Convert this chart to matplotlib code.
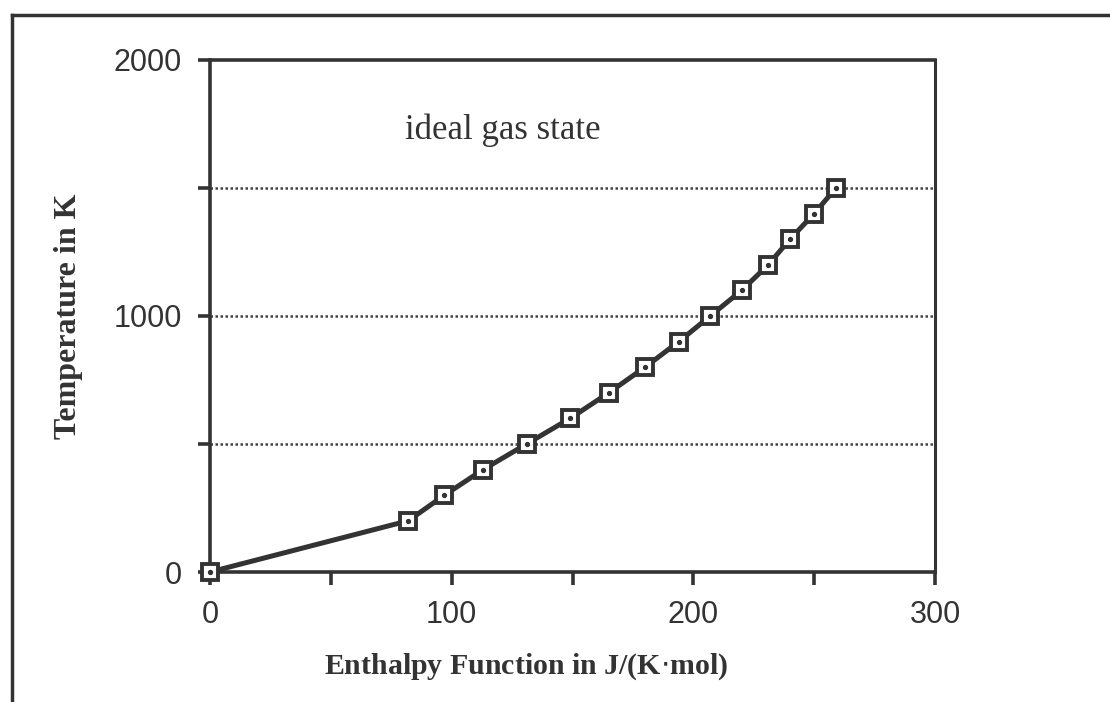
"""
Temperature vs enthalpy function, ideal gas state
"""

import matplotlib
matplotlib.use('Agg')
import matplotlib.pyplot as plt
from matplotlib.lines import Line2D

# data
enthalpy_fn = [0, 82, 97, 113, 131, 149, 165, 180, 194, 207, 220, 231, 240, 250, 259]
temperature = [0, 200, 300, 400, 500, 600, 700, 800, 900, 1000, 1100, 1200, 1300, 1400, 1500]
grid_levels = [500, 1000, 1500]

ink = '#333333'

fig = plt.figure(figsize=(11.1, 7.02), dpi=100)
ax = fig.add_axes([210 / 1110, 130 / 702, 725 / 1110, 512 / 702])

# outer border (left and top only, as in the scan)
fig.add_artist(Line2D([12 / 1110, 12 / 1110], [0, 1 - 15 / 702], color=ink, lw=2.5,
                      transform=fig.transFigure))
fig.add_artist(Line2D([12 / 1110, 1], [1 - 15 / 702, 1 - 15 / 702], color=ink, lw=2.5,
                      transform=fig.transFigure))

# gridlines
for g in grid_levels:
    ax.axhline(g, color='#444444', lw=1.8, ls=(0, (1, 1)), zorder=1)

# the curve
ax.plot(enthalpy_fn, temperature, color=ink, lw=3.6, zorder=3, clip_on=False)
ax.plot(enthalpy_fn, temperature, ls='none', marker='s', ms=11,
        mfc='white', mec=ink, mew=2.8, zorder=4, clip_on=False)
ax.plot(enthalpy_fn, temperature, ls='none', marker='o', ms=2.8,
        color=ink, zorder=5, clip_on=False)

ax.text(121, 1726, 'ideal gas state', family='Liberation Serif', fontsize=25,
        color=ink, ha='center', va='center')

ax.set_xlim(0, 300)
ax.set_ylim(0, 2000)
ax.set_xticks([0, 100, 200, 300])
ax.set_xticks([50, 150, 250], minor=True)
ax.set_yticks([0, 1000, 2000])
ax.set_yticks([500, 1500], minor=True)

for side in ['left', 'bottom', 'top']:
    ax.spines[side].set_linewidth(2.6)
ax.spines['right'].set_linewidth(2.2)
for s in ax.spines.values():
    s.set_color(ink)

ax.tick_params(which='both', direction='out', color=ink, width=2.6, length=9)
ax.tick_params(axis='x', pad=11)
ax.tick_params(axis='y', pad=11)
for lab in ax.get_xticklabels() + ax.get_yticklabels():
    lab.set_family('Liberation Sans')
    lab.set_fontsize(22)
    lab.set_color(ink)

ax.set_xlabel('Enthalpy Function in J/(K$\\cdot$mol)', family='Liberation Serif',
              fontweight='bold', fontsize=21.5, color=ink)
ax.xaxis.set_label_coords(0.436, -0.155)
ax.set_ylabel('Temperature in K', family='Liberation Serif', fontweight='bold',
              fontsize=23, color=ink)
ax.yaxis.set_label_coords(-0.175, 0.5)

fig.savefig('out.png', dpi=100)
